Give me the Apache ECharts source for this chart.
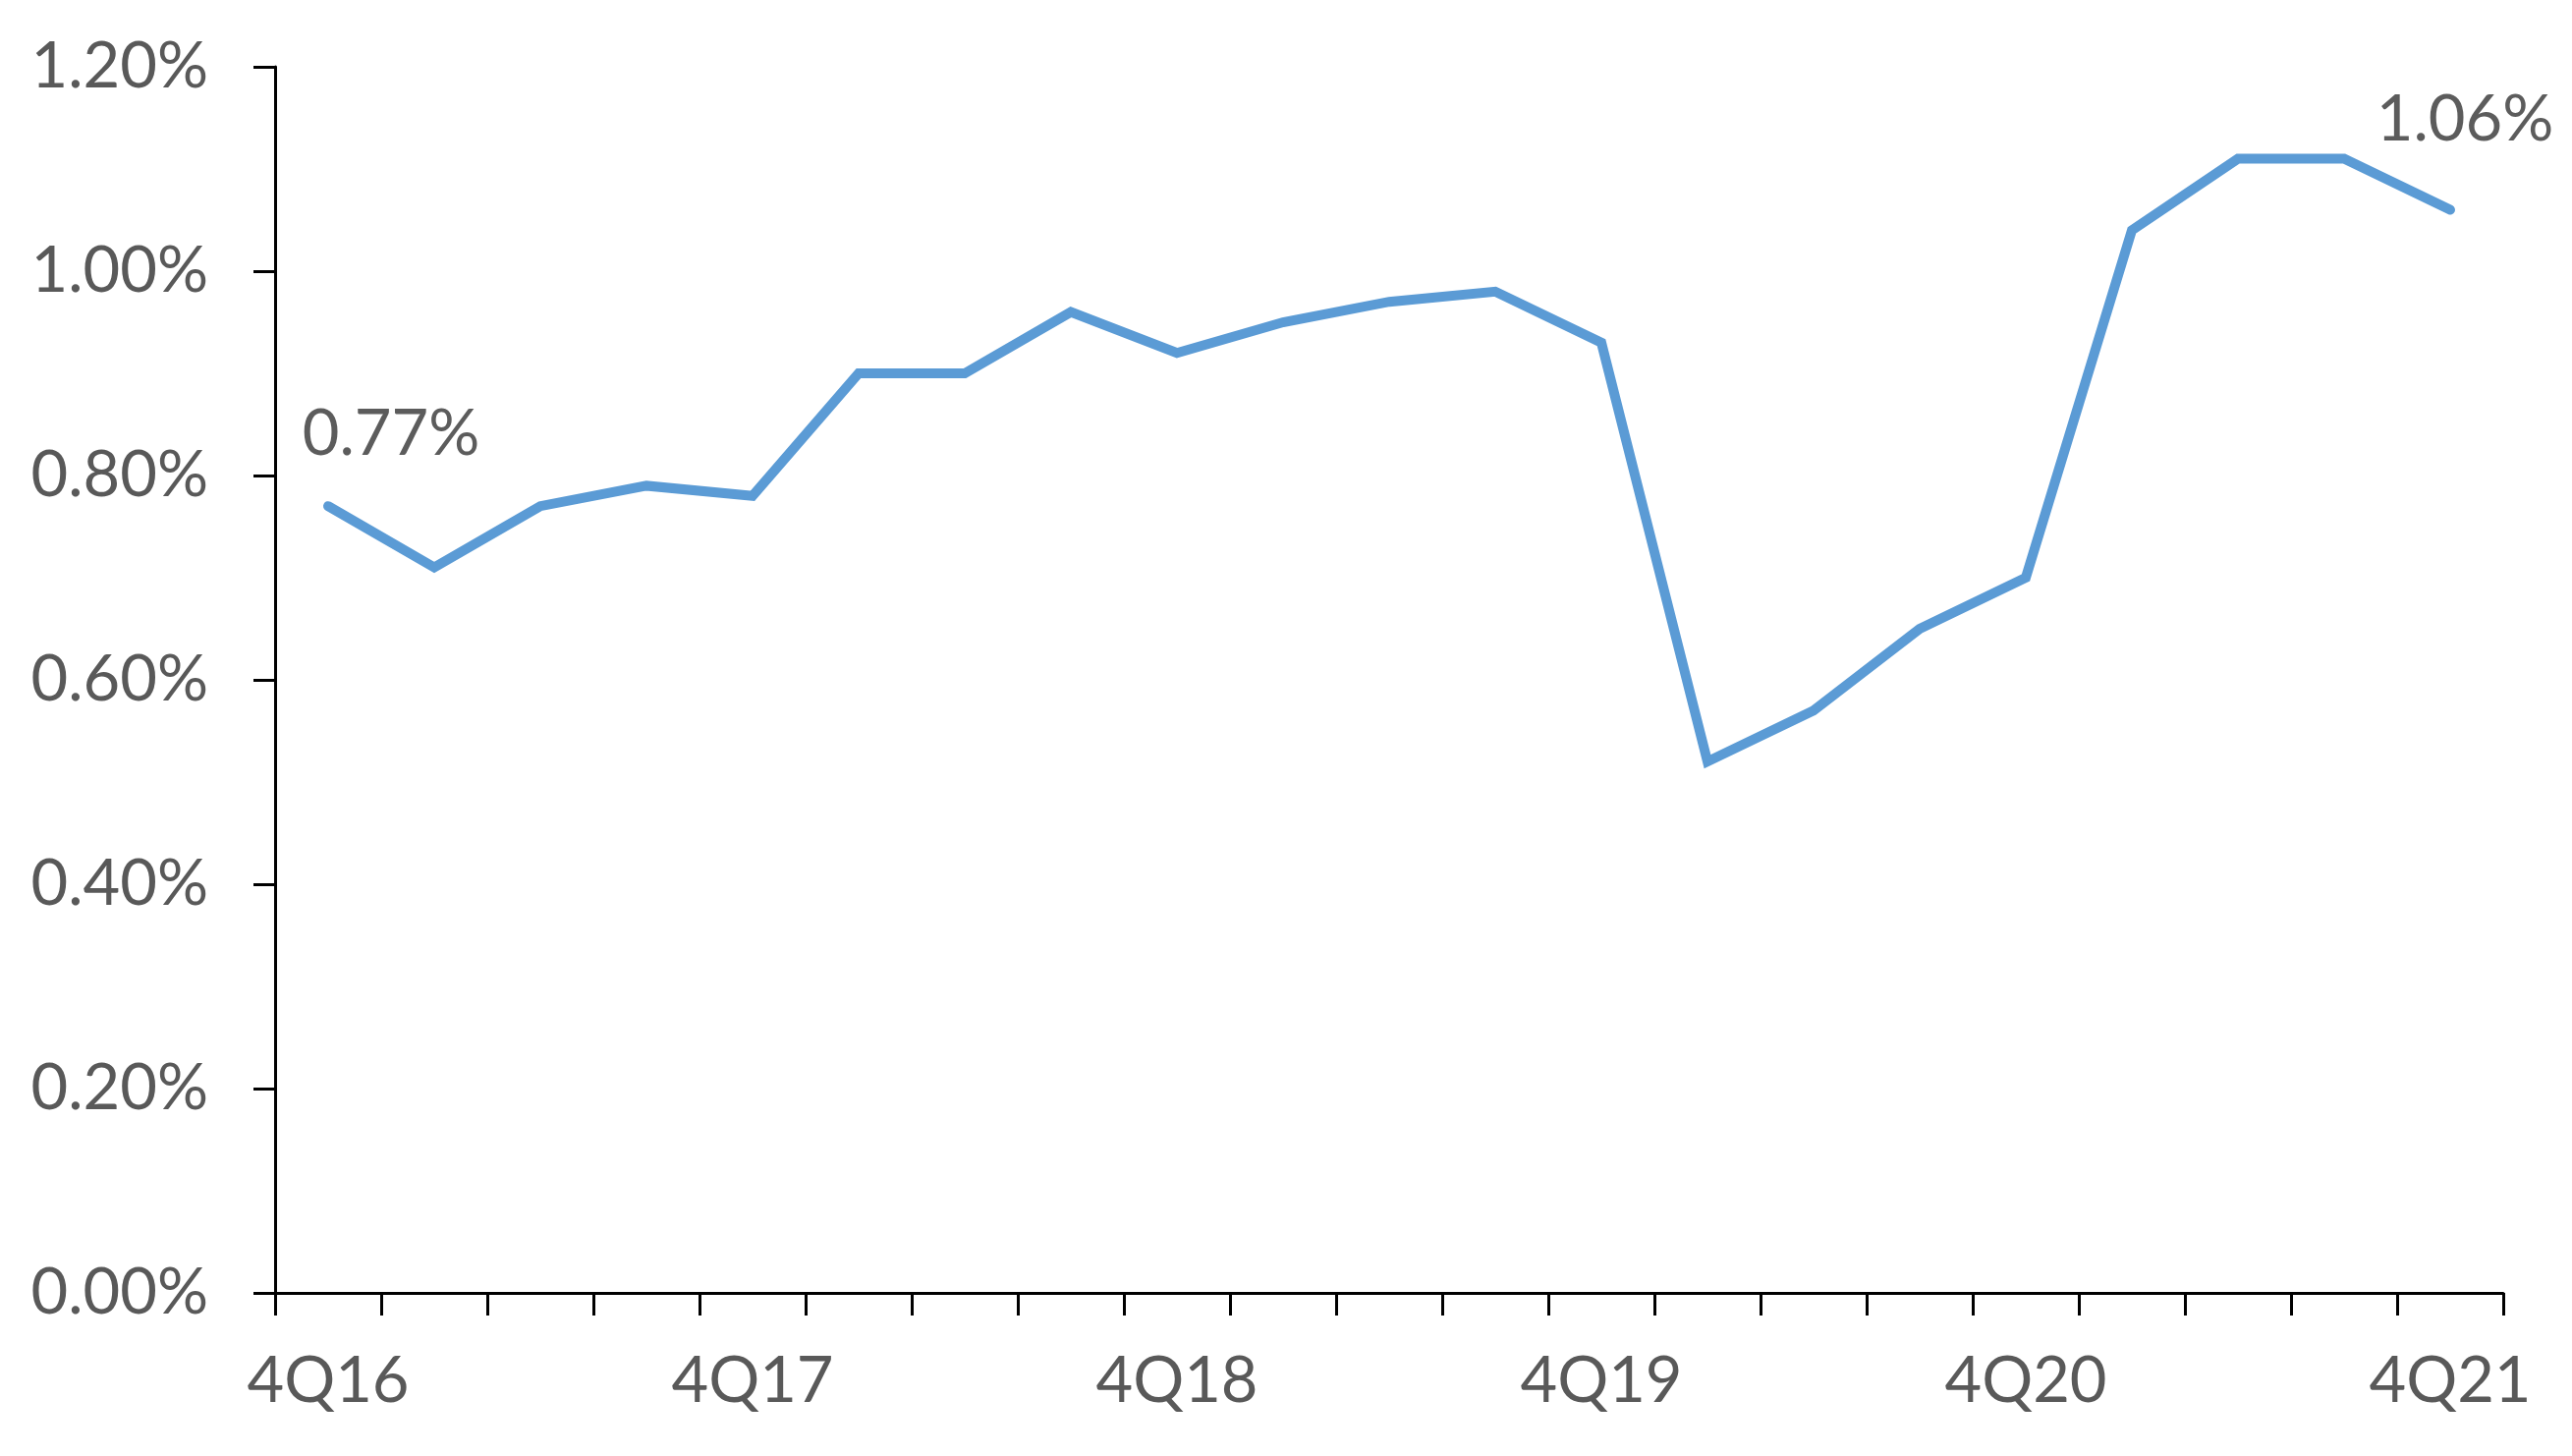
<!DOCTYPE html>
<html>
<head>
<meta charset="utf-8">
<script src="https://cdn.jsdelivr.net/npm/echarts@6/dist/echarts.min.js"></script>
<style>html,body{margin:0;padding:0;background:#fff;}#c{width:2618px;height:1482px;}</style>
</head>
<body>
<div id="c"></div>
<script>
const categories = ['4Q16','1Q17','2Q17','3Q17','4Q17','1Q18','2Q18','3Q18','4Q18','1Q19','2Q19','3Q19','4Q19','1Q20','2Q20','3Q20','4Q20','1Q21','2Q21','3Q21','4Q21'];
const values = [0.77,0.71,0.77,0.79,0.78,0.90,0.90,0.96,0.92,0.95,0.97,0.98,0.93,0.52,0.57,0.65,0.70,1.04,1.11,1.11,1.06];
const yTicks = [0,0.2,0.4,0.6,0.8,1.0,1.2];
const labeled = {0:[64,-73],20:[15,-92]};

const FONT = 'Lato';
const chart = echarts.init(document.getElementById('c'));
chart.setOption({
  animation:false,
  grid:{left:280,right:70,top:68,bottom:166,containLabel:false},
  xAxis:{
    type:'category', data:categories, boundaryGap:true,
    axisLine:{lineStyle:{color:'#000',width:3}},
    axisTick:{show:true,interval:0,length:23,lineStyle:{color:'#000',width:3}},
    axisLabel:{interval:3,margin:58,color:'#595959',fontFamily:FONT,fontSize:65}
  },
  yAxis:{
    type:'value', min:yTicks[0], max:yTicks[yTicks.length-1], interval:0.2,
    splitLine:{show:false},
    axisLine:{show:true,lineStyle:{color:'#000',width:3}},
    axisTick:{show:true,length:22,lineStyle:{color:'#000',width:3}},
    axisLabel:{margin:68,color:'#595959',fontFamily:FONT,fontSize:65,formatter:v=>v.toFixed(2)+'%'}
  },
  series:[{
    type:'line', showSymbol:false, symbol:'none',
    lineStyle:{color:'#5B9BD5',width:10,cap:'round',join:'miter'},
    data:values
  },{
    type:'scatter', symbol:'circle', symbolSize:1,
    itemStyle:{color:'rgba(0,0,0,0)'},
    silent:true,
    data:values.map((v,i)=>labeled[i]?{value:v,label:{show:true,position:'inside',offset:labeled[i],formatter:v.toFixed(2)+'%',color:'#333333',fontFamily:FONT,fontSize:65}}:'-')
  }]
});
</script>
</body>
</html>
